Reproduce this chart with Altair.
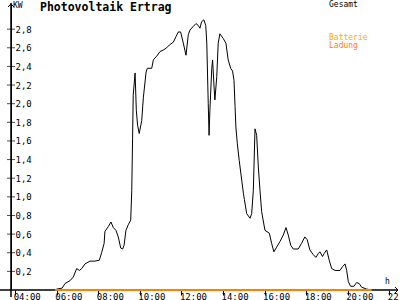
import altair as alt
import pandas as pd

# ---- data ----
hours = [5.92, 6.01, 6.26, 6.40, 6.64, 6.80, 6.96, 7.09, 7.20, 7.36, 7.60, 7.84, 8.05, 8.16, 8.28,
         8.32, 8.48, 8.61, 8.72, 8.85, 8.96, 9.08, 9.17, 9.24, 9.33, 9.44, 9.56, 9.61, 9.65, 9.68,
         9.77, 9.83, 9.89, 9.97, 10.09, 10.17, 10.30, 10.36, 10.57, 10.65, 10.81, 10.97, 11.16, 11.29,
         11.42, 11.61, 11.74, 11.85, 11.96, 12.09, 12.22, 12.33, 12.41, 12.57, 12.70, 12.81, 12.89,
         12.97, 13.08, 13.17, 13.22, 13.29, 13.33, 13.37, 13.46, 13.50, 13.57, 13.61, 13.70, 13.77,
         13.85, 14.01, 14.14, 14.25, 14.37, 14.46, 14.53, 14.58, 14.62, 14.69, 14.78, 14.90, 14.98,
         15.03, 15.14, 15.30, 15.38, 15.46, 15.54, 15.62, 15.70, 15.78, 15.86, 16.02, 16.23, 16.34,
         16.45, 16.58, 16.74, 16.90, 17.03, 17.14, 17.26, 17.38, 17.62, 17.78, 17.94, 18.05, 18.18,
         18.34, 18.47, 18.58, 18.66, 18.79, 18.86, 18.99, 19.11, 19.23, 19.39, 19.63, 19.75, 19.87,
         19.95, 20.03, 20.14, 20.30, 20.43, 20.55, 20.67, 20.91, 21.15]
gesamt = [0.00, 0.01, 0.02, 0.07, 0.10, 0.14, 0.23, 0.21, 0.23, 0.28, 0.31, 0.31, 0.32, 0.40, 0.50,
          0.63, 0.68, 0.73, 0.67, 0.64, 0.57, 0.45, 0.44, 0.48, 0.64, 0.70, 0.75, 1.07, 1.63, 2.09,
          2.33, 1.93, 1.77, 1.68, 1.82, 2.07, 2.34, 2.38, 2.38, 2.47, 2.51, 2.56, 2.58, 2.60,
          2.63, 2.66, 2.72, 2.77, 2.77, 2.65, 2.52, 2.74, 2.79, 2.83, 2.86, 2.84, 2.81,
          2.88, 2.90, 2.84, 2.65, 2.00, 1.66, 1.93, 2.38, 2.47, 2.18, 2.04, 2.29, 2.65,
          2.75, 2.70, 2.65, 2.47, 2.38, 2.35, 2.25, 1.97, 1.75, 1.57, 1.39, 1.18, 1.04,
          0.97, 0.82, 0.77, 0.82, 1.07, 1.73, 1.66, 1.32, 1.07, 0.84, 0.64, 0.61, 0.50,
          0.41, 0.46, 0.52, 0.59, 0.67, 0.59, 0.48, 0.44, 0.44, 0.50, 0.57, 0.54, 0.43,
          0.38, 0.35, 0.39, 0.41, 0.36, 0.39, 0.43, 0.32, 0.23, 0.21, 0.21, 0.25, 0.28,
          0.21, 0.09, 0.04, 0.04, 0.08, 0.07, 0.03, 0.01, 0.00]
ladung_hours = [5.92, 21.15]
ladung = [0.0, 0.0]
y_ticks = [0.2, 0.4, 0.6, 0.8, 1.0, 1.2, 1.4, 1.6, 1.8, 2.0, 2.2, 2.4, 2.6, 2.8]
x_ticks = [4, 6, 8, 10, 12, 14, 16, 18, 20, 22]
title_text = "Photovoltaik Ertrag"
unit_text = "KW"
hour_text = "h"
legend_labels = ["Gesamt", "Batterie", "Ladung"]
legend_colors = ["#000000", "#FFAA00", "#FF8000"]

# ---- layout ----
X0, X1 = 3.80, 22.42
Y0, Y1 = 0.0, 3.07
W, H = 387, 286
FONT = "DejaVu Sans Mono"

xs = alt.Scale(domain=[X0, X1], nice=False, zero=False)
ys = alt.Scale(domain=[Y0, Y1], nice=False, zero=False)

xaxis = alt.Axis(
    values=x_ticks, title=None, grid=False,
    labelExpr="(datum.value < 10 ? '0' : '') + datum.value + ':00'",
    labelAlign="left", labelBaseline="top", labelOffset=-2, labelPadding=-3,
    tickSize=5, domain=False, labelFlush=False, labelOverlap=False)
yaxis = alt.Axis(
    values=y_ticks, title=None, grid=False, ticks=False,
    labelExpr="replace(format(datum.value, '.1f'), '.', ',')",
    labelAlign="left", labelBaseline="middle", labelPadding=-4,
    labelFlush=False, labelOverlap=False)

df = pd.DataFrame({"t": hours, "kw": gesamt})
dl = pd.DataFrame({"t": ladung_hours, "kw": ladung})
dyt = pd.DataFrame({"kw": y_ticks})

main = alt.Chart(df).mark_line(color="black", strokeWidth=1).encode(
    x=alt.X("t:Q", scale=xs, axis=xaxis),
    y=alt.Y("kw:Q", scale=ys, axis=yaxis),
)

xaxis_line = alt.Chart(dl).mark_rule(color="black", strokeWidth=1).encode(
    x=alt.value(-11), x2=alt.value(W),
    y=alt.YDatum(0, type="quantitative", scale=ys, axis=yaxis))

yaxis_line = alt.Chart(dl).mark_rule(color="black", strokeWidth=1).encode(
    x=alt.XDatum(X0, type="quantitative", scale=xs, axis=xaxis),
    y=alt.value(-1), y2=alt.value(H + 7))

yticks = alt.Chart(dyt).mark_tick(orient="horizontal", size=8, thickness=1, color="black").encode(
    x=alt.XDatum(X0, type="quantitative", scale=xs, axis=xaxis),
    y=alt.Y("kw:Q", scale=ys, axis=yaxis))

arrow_up = alt.Chart(dl).mark_point(shape="M-1,1L0,0L1,1", filled=False, size=36,
                                    color="black", strokeWidth=1, opacity=1).encode(
    x=alt.XDatum(X0, type="quantitative", scale=xs, axis=xaxis),
    y=alt.YDatum(Y1, type="quantitative", scale=ys, axis=yaxis))

arrow_right = alt.Chart(dl).mark_point(shape="M-1,-1L0,0L-1,1", filled=False, size=36,
                                       color="black", strokeWidth=1, opacity=1).encode(
    x=alt.XDatum(X1, type="quantitative", scale=xs, axis=xaxis),
    y=alt.YDatum(0, type="quantitative", scale=ys, axis=yaxis))

ladung_line = alt.Chart(dl).mark_line(color="#FF8000", strokeWidth=2).encode(
    x=alt.X("t:Q", scale=xs, axis=xaxis),
    y=alt.Y("kw:Q", scale=ys, axis=yaxis))

def label(txt, px, py, size=8, color="black", bold=False):
    return alt.Chart(pd.DataFrame({"s": [txt]})).mark_text(
        align="left", baseline="alphabetic", font=FONT, fontSize=size,
        fontWeight="bold" if bold else "normal", color=color).encode(
        text="s:N", x=alt.value(px), y=alt.value(py))

texts = [
    label(title_text, 29, 7, size=11.5, bold=True),
    label(unit_text, 2, 3.5),
    label(legend_labels[0], 318, 3),
    label(legend_labels[1], 318, 35.5, color=legend_colors[1]),
    label(legend_labels[2], 318, 43.5, color=legend_colors[2]),
    label(hour_text, 374, 280),
]

chart = alt.layer(xaxis_line, yaxis_line, yticks, arrow_up, arrow_right, main, ladung_line, *texts).properties(
    width=W, height=H,
    padding={"left": 11, "top": 4, "right": 2, "bottom": 10},
    autosize="none",
    background="white",
).configure_view(stroke=None).configure_axis(
    domainColor="black", domainWidth=1, tickColor="black", tickWidth=1,
    labelFont=FONT, labelFontSize=9, labelColor="black",
)

chart.save("out.html", embed_options={"renderer": "svg", "actions": False})
